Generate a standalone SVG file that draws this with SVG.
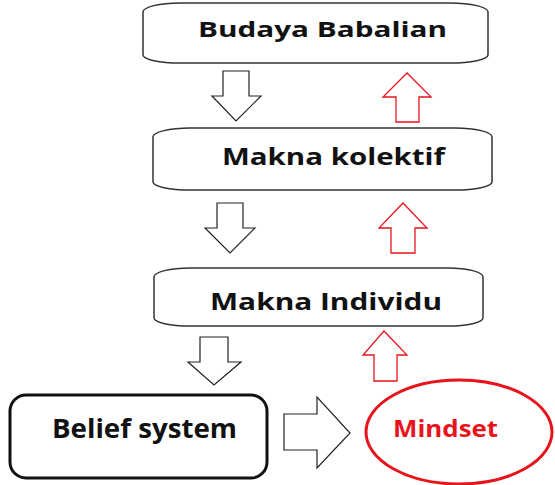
<svg xmlns="http://www.w3.org/2000/svg" width="555" height="485" viewBox="0 0 555 485">
<style>
.box{fill:#fff;stroke:#333;stroke-width:1.5}
.lbl{font-family:"Open Sans","DejaVu Sans",sans-serif;font-weight:700;fill:#111}
.down{fill:#fff;stroke:#222;stroke-width:1.2}
.up{fill:#fff;stroke:#e8141c;stroke-width:1.3}
</style>
<rect width="555" height="485" fill="#fff"/>
<g id="budaya">
<path class="box" d="M180,3 H450 A38,9 0 0 1 488,12 V55 A38,8 0 0 1 450,63 H180 A37,8 0 0 1 143,55 V12 A37,9 0 0 1 180,3 Z"/>
<text class="lbl" x="198" y="37" font-size="22" textLength="249" lengthAdjust="spacingAndGlyphs">Budaya Babalian</text>
</g>
<g id="kolektif">
<path class="box" d="M190,128 H455 A37,9 0 0 1 492,137 V182 A37,8 0 0 1 455,190 H190 A37,8 0 0 1 153,182 V137 A37,9 0 0 1 190,128 Z"/>
<text class="lbl" x="222" y="165" font-size="23" textLength="223" lengthAdjust="spacingAndGlyphs">Makna kolektif</text>
</g>
<g id="individu">
<path class="box" d="M190,268 H448 A35,9 0 0 1 483,277 V318 A35,8 0 0 1 448,326 H190 A36,8 0 0 1 154,318 V277 A36,9 0 0 1 190,268 Z"/>
<text class="lbl" x="210" y="310" font-size="23" textLength="232" lengthAdjust="spacingAndGlyphs">Makna Individu</text>
</g>
<g id="belief">
<rect x="10" y="395" width="257" height="83" rx="16" ry="16" fill="#fff" stroke="#111" stroke-width="3"/>
<text class="lbl" x="52" y="438" font-size="27" textLength="185" lengthAdjust="spacingAndGlyphs">Belief system</text>
</g>
<g id="mindset">
<ellipse cx="459" cy="432" rx="93" ry="52" fill="#fff" stroke="#e8141c" stroke-width="3"/>
<text class="lbl" x="393" y="437" font-size="24" fill="#e8141c" style="fill:#e8141c" textLength="105" lengthAdjust="spacingAndGlyphs">Mindset</text>
</g>
<g id="connectors">
<polygon class="down" points="223,71 249,71 249,96 261,96 236,121 212,96 223,96"/>
<polygon class="down" points="217,203 243,203 243,228 255,228 230,253 205,228 217,228"/>
<polygon class="down" points="200,337 228,337 228,362 241,362 214,385 188,362 200,362"/>
<polygon class="up" points="396,122 419,122 419,97 431,97 407,73 383,97 396,97"/>
<polygon class="up" points="391,253 415,253 415,228 427,228 403,203 379,228 391,228"/>
<polygon class="up" points="374,381 397,381 397,355 407,355 384,331 363,355 374,355"/>
<polygon class="down" points="284,414 317,414 317,397 350,433 317,468 317,450 284,450"/>
</g>
</svg>
